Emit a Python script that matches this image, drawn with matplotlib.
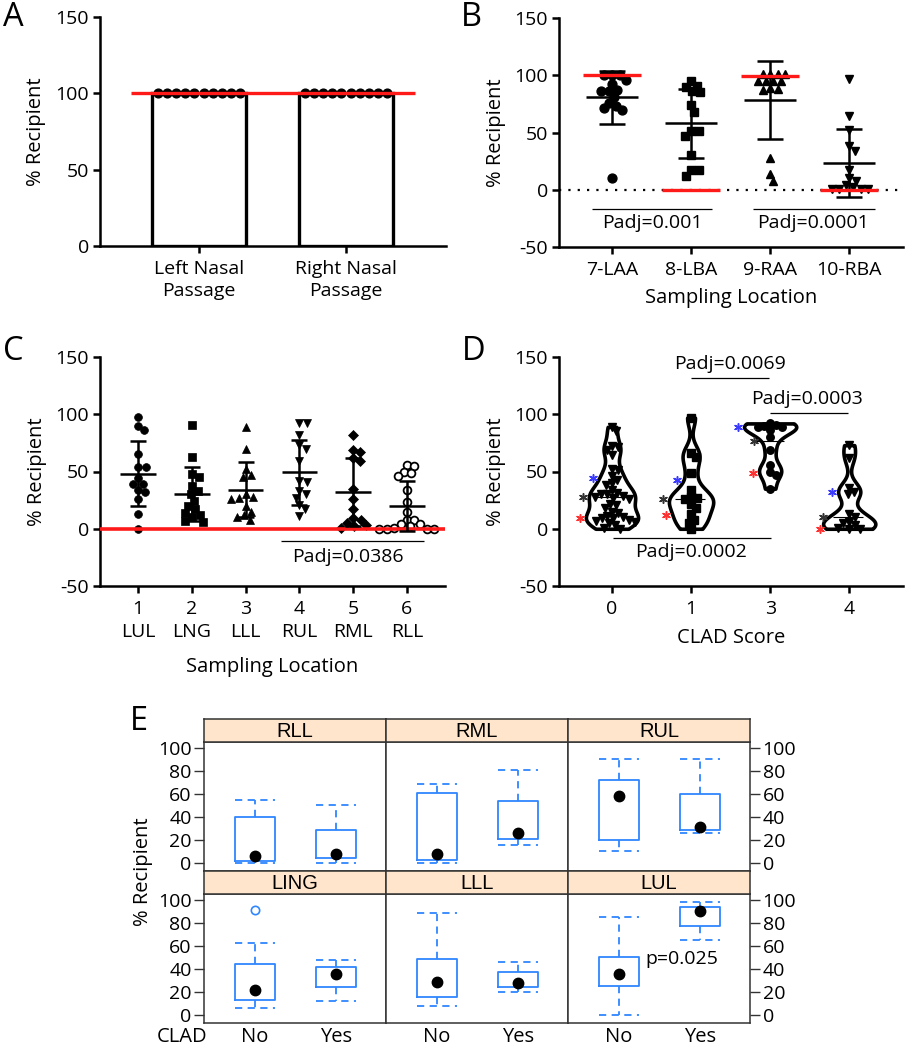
import numpy as np
import matplotlib.pyplot as plt

plt.rcParams['font.family'] = ['Open Sans', 'DejaVu Sans']
plt.rcParams['axes.unicode_minus'] = False

W, H = 907, 1050
TICK = 14
LAB = 14.5

# ---------------- data ----------------
# A
a_labels = ['Left Nasal\nPassage', 'Right Nasal\nPassage']
a_left = [100] * 10
a_right = [100] * 10
a_bar = [100, 100]
a_red = 100

# B
b_labels = ['7-LAA', '8-LBA', '9-RAA', '10-RBA']
b_laa = [100, 100, 100, 96, 92, 87, 86, 86, 81, 76, 73, 71, 70, 10]
b_lba = [95, 91, 90, 86, 85, 74, 68, 51, 51, 47, 30, 17, 17, 12]
b_raa = [101, 101, 101, 101, 95, 95, 95, 95, 89, 88, 87, 28, 14, 8]
b_rba = [97, 64, 52, 38, 34, 17, 10, 8, 4, 2, 1, 1, 0.5, 0.5]
b_red = [100, 0, 99, 0]

# C
c_num = ['1', '2', '3', '4', '5', '6']
c_lobe = ['LUL', 'LNG', 'LLL', 'RUL', 'RML', 'RLL']
c_lul = [98, 90, 86, 65, 54, 54, 44, 39, 39, 34, 32, 26, 13, 0]
c_lng = [91, 63, 48, 45, 37, 33, 30, 24, 20, 17, 14, 12, 10, 7, 6]
c_lll = [89, 70, 52, 47, 45, 30, 28, 27, 26, 20, 15, 12, 10, 8]
c_rul = [92, 92, 82, 73, 70, 59, 42, 41, 33, 30, 27, 21, 17, 11]
c_rml = [82, 69, 67, 62, 59, 35, 26, 17, 9, 8, 5, 3, 2, 1]
c_rll = [56, 55, 50, 49, 46, 34, 23, 15, 8, 8, 4, 4, 2, 1, 0, 0, 0, 0]

# D
d_labels = ['0', '1', '3', '4']
d_clad0 = [89, 85, 72, 71, 69, 64, 52, 51, 46, 43, 40, 38, 34, 31, 30, 30, 29, 28,
           27, 26, 22, 21, 18, 15, 14, 11, 10, 9, 9, 8, 7, 6, 5, 3, 1, 0]
d_clad1 = [97, 66, 63, 49, 34, 28, 27, 26, 22, 18, 13, 8, 5, 0]
d_clad3 = [92, 91, 90, 89, 89, 86, 80, 69, 56, 50, 47, 35]
d_clad4 = [73, 62, 36, 32, 30, 13, 10, 6, 5, 3, 1, 0, 0]
d_star_blue = [44.5, 42.7, 89, 32]
d_star_black = [27.5, 26, 77, 10.5]
d_star_red = [9.4, 12, 48.6, 0]

# E  (box stats: lower whisker, Q1, median, Q3, upper whisker)
e_panels = ['RLL', 'RML', 'RUL', 'LING', 'LLL', 'LUL']
e_groups = ['No', 'Yes']
e_lo = [[0, 0], [0, 16], [10, 26], [6, 12], [8, 20], [0, 65]]
e_q1 = [[2, 4], [3, 21], [20, 29], [13, 24], [16, 24], [25, 77]]
e_med = [[6, 8], [8, 26], [58, 31], [22, 36], [29, 28], [36, 90]]
e_q3 = [[40, 29], [61, 54], [72, 60], [44, 42], [49, 37], [50, 94]]
e_hi = [[55, 50], [69, 81], [90, 90], [63, 48], [89, 46], [85, 98]]
e_out = [[[], []], [[], []], [[], []], [[91], []], [[], []], [[], []]]


# ---------------- helpers ----------------
def box(l, t, r, b):
    return [l / W, 1 - b / H, (r - l) / W, (b - t) / H]


def prism(ax):
    for s in ['top', 'right']:
        ax.spines[s].set_visible(False)
    for s in ['left', 'bottom']:
        ax.spines[s].set_linewidth(1.8)
    ax.tick_params(width=1.8, length=5, labelsize=TICK, pad=3)
    ax.tick_params(axis='x', pad=5)
    ax.yaxis.set_label_coords(-0.155, 0.5)


def swarm(vals, d, xs, ys):
    # simple beeswarm offsets (data units), d = marker diameter in px
    vals = np.asarray(vals, float)
    order = np.argsort(-vals, kind='stable')
    placed = []
    off = np.zeros(len(vals))
    for i in order:
        y = vals[i] * ys
        cands = [0.0]
        for px, py in placed:
            dy = abs(py - y)
            if dy < d:
                dx = np.sqrt(d * d - dy * dy)
                cands += [px + dx, px - dx]
        cands = sorted(cands, key=lambda c: (abs(c), -c))
        for c in cands:
            if all((c - px) ** 2 + (y - py) ** 2 >= d * d - 1e-6 for px, py in placed):
                break
        placed.append((c, y))
        off[i] = c / xs
    return off


def mean_sd(ax, x, vals, half, cap):
    m = np.mean(vals)
    sd = np.std(vals, ddof=1)
    ax.errorbar(x, m, yerr=sd, fmt='none', ecolor='black', elinewidth=1.8,
                capsize=cap, capthick=1.8, zorder=5)
    ax.hlines(m, x - half, x + half, color='black', lw=1.8, zorder=5)


fig = plt.figure(figsize=(W / 100, H / 100), dpi=100)

# ---------------- A ----------------
axA = fig.add_axes(box(100, 17, 446, 246))
xa = np.arange(len(a_labels))
axA.bar(xa, a_bar, width=0.64, color='white', edgecolor='black', linewidth=2.4, zorder=1)
for i, vals in enumerate([a_left, a_right]):
    off = np.linspace(-0.28, 0.28, len(vals))
    axA.plot(i + off, vals, 'o', color='black', ms=6.3, zorder=3, clip_on=False)
axA.hlines(a_red, -0.46, 1.47, color='#ff1a1a', lw=2.4, zorder=4)
axA.set_xlim(-0.673, 1.68)
axA.set_ylim(0, 150)
axA.set_yticks([0, 50, 100, 150])
axA.set_xticks(xa, a_labels, linespacing=1.3)
axA.set_ylabel('% Recipient', fontsize=LAB)
prism(axA)

# ---------------- B ----------------
axB = fig.add_axes(box(559, 18, 903, 247))
b_data = [b_laa, b_lba, b_raa, b_rba]
b_mk = ['o', 's', '^', 'v']
for i, vals in enumerate(b_data):
    off = swarm(vals, 7.6, 79, 1.147)
    axB.plot(i + off, vals, b_mk[i], color='black', ms=6.4 if b_mk[i] != 's' else 6.0,
             ls='none', zorder=3)
    mean_sd(axB, i, vals, 0.33, 9.5)
    axB.hlines(b_red[i], i - 0.37, i + 0.37, color='#ff1a1a', lw=2.4, zorder=6)
axB.axhline(0, color='black', lw=1.6, ls=(0, (1, 3.2)), zorder=0)
axB.hlines(-16.6, -0.25, 1.27, color='black', lw=0.9)
axB.hlines(-16.6, 1.78, 3.32, color='black', lw=0.9)
axB.text(0.51, -29, 'Padj=0.001', ha='center', va='center', fontsize=TICK)
axB.text(2.54, -29, 'Padj=0.0001', ha='center', va='center', fontsize=TICK)
axB.set_xlim(-0.67, 3.68)
axB.set_ylim(-50, 150)
axB.set_yticks([-50, 0, 50, 100, 150])
axB.set_xticks(range(4), b_labels)
axB.set_ylabel('% Recipient', fontsize=LAB)
axB.set_xlabel('Sampling Location', fontsize=LAB)
prism(axB)
axB.xaxis.set_label_coords(0.5, -0.18)

# ---------------- C ----------------
axC = fig.add_axes(box(100, 357, 445, 586))
c_data = [c_lul, c_lng, c_lll, c_rul, c_rml, c_rll]
c_mk = ['o', 's', '^', 'v', 'D', 'o']
for i, vals in enumerate(c_data):
    off = swarm(vals, 7.6, 53.8, 1.1467)
    fc = 'white' if i == 5 else 'black'
    ms = 5.0 if c_mk[i] == 'D' else 5.6
    axC.plot(i + off, vals, c_mk[i], mfc=fc, mec='black', mew=1.3 if i == 5 else 0.5,
             ms=ms, ls='none', zorder=3)
    mean_sd(axC, i, vals, 0.33, 6)
axC.axhline(0, color='#ff1a1a', lw=2.6, zorder=4)
axC.hlines(-11, 2.66, 5.32, color='black', lw=0.9)
axC.text(3.9, -25, 'Padj=0.0386', ha='center', va='center', fontsize=TICK)
axC.set_xlim(-0.71, 5.71)
axC.set_ylim(-50, 150)
axC.set_yticks([-50, 0, 50, 100, 150])
axC.set_xticks(range(6), [n + '\n' + l for n, l in zip(c_num, c_lobe)], linespacing=1.35)
axC.set_ylabel('% Recipient', fontsize=LAB)
axC.set_xlabel('Sampling Location', fontsize=LAB)
prism(axC)
axC.xaxis.set_label_coords(0.5, -0.31)

# ---------------- D ----------------
axD = fig.add_axes(box(559, 357, 903, 586))
d_data = [d_clad0, d_clad1, d_clad3, d_clad4]
d_mk = ['v', 's', 'o', 'v']
parts = axD.violinplot(d_data, positions=range(4), widths=[0.66, 0.56, 0.66, 0.66],
                       showextrema=False, bw_method=0.3)
for b in parts['bodies']:
    b.set_facecolor('white')
    b.set_edgecolor('black')
    b.set_linewidth(2.6)
    b.set_alpha(1)
    b.set_zorder(2)
for i, vals in enumerate(d_data):
    off = swarm(vals, 6.4, 79, 1.14)
    axD.plot(i + off, vals, d_mk[i], color='black', ms=5.4, ls='none', zorder=3)
    axD.hlines(d_star_black[i], i - 0.2, i + 0.18, color='black', lw=0.8, zorder=3)
    v = parts['bodies'][i].get_paths()[0].vertices
    left = v[v[:, 0] < i - 1e-6]
    order = np.argsort(left[:, 1])
    for vals_s, col in [(d_star_blue, '#3b3bff'), (d_star_black, '#333333'),
                        (d_star_red, '#ff3030')]:
        y = vals_s[i]
        xl = np.interp(y, left[order, 1], left[order, 0])
        axD.scatter(xl - 0.08, y, marker=(6, 2, 0), s=30, color=col, lw=1.1, zorder=4)
axD.hlines(131.8, 1.0, 1.99, color='black', lw=0.9)
axD.hlines(101, 2.0, 2.99, color='black', lw=0.9)
axD.hlines(-8, 0.01, 2.01, color='black', lw=0.9)
axD.text(1.49, 144, 'Padj=0.0069', ha='center', va='center', fontsize=TICK)
axD.text(2.47, 113, 'Padj=0.0003', ha='center', va='center', fontsize=TICK)
axD.text(1.0, -20, 'Padj=0.0002', ha='center', va='center', fontsize=TICK)
axD.set_xlim(-0.67, 3.68)
axD.set_ylim(-50, 150)
axD.set_yticks([-50, 0, 50, 100, 150])
axD.set_xticks(range(4), d_labels)
axD.set_ylabel('% Recipient', fontsize=LAB)
axD.set_xlabel('CLAD Score', fontsize=LAB)
prism(axD)
axD.xaxis.set_label_coords(0.5, -0.185)

# ---------------- E ----------------
blue = '#2f86ff'
frame = '#333333'
cols = [204, 386, 568, 750]
rows = [(719, 742, 871), (871, 894, 1023)]
for k, name in enumerate(e_panels):
    r, c = divmod(k, 3)
    st, pt, pb = rows[r]
    l, rr = cols[c], cols[c + 1]
    ax = fig.add_axes(box(l, pt, rr, pb))
    stats = []
    for g in range(2):
        stats.append(dict(whislo=e_lo[k][g], q1=e_q1[k][g], med=e_med[k][g],
                          q3=e_q3[k][g], whishi=e_hi[k][g], fliers=e_out[k][g]))
    ax.bxp(stats, positions=[1, 2], widths=0.5, capwidths=0.5, showfliers=True,
           boxprops=dict(color=blue, lw=1.3),
           whiskerprops=dict(color=blue, lw=1.3, ls=(0, (4, 3))),
           capprops=dict(color=blue, lw=1.3, ls=(0, (4, 3))),
           medianprops=dict(visible=False),
           flierprops=dict(marker='o', mfc='none', mec=blue, ms=6, mew=1.2))
    ax.plot([1, 2], e_med[k], 'o', color='black', ms=7.5, zorder=5)
    ax.set_xlim(0.37, 2.62)
    ax.set_ylim(-7, 105.2)
    ax.set_yticks(range(0, 101, 20))
    for s in ax.spines.values():
        s.set_color(frame)
        s.set_linewidth(1.1)
    ax.tick_params(axis='y', length=7, width=1.0, color=frame, labelsize=TICK, pad=2)
    if c == 0:
        ax.yaxis.tick_left()
    elif c == 2:
        ax.yaxis.tick_right()
    else:
        ax.tick_params(axis='y', left=False, labelleft=False)
    if r == 1:
        ax.set_xticks([1, 2], e_groups)
        ax.tick_params(axis='x', length=0, labelsize=14.5, pad=3)
    else:
        ax.set_xticks([])
    if name == 'LUL':
        ax.text(1.33, 49, 'p=0.025', ha='left', va='center', fontsize=TICK)
    sa = fig.add_axes(box(l, st, rr, pt))
    sa.set_facecolor('#ffe5cc')
    sa.set_xticks([])
    sa.set_yticks([])
    for s in sa.spines.values():
        s.set_color(frame)
        s.set_linewidth(1.1)
    sa.text(0.5, 0.45, name, ha='center', va='center', fontsize=14.5,
            family=['Liberation Sans', 'DejaVu Sans'], transform=sa.transAxes)

fig.text(143 / W, 1 - 872 / H, '% Recipient', rotation=90, ha='center', va='center',
         fontsize=LAB)
fig.text(207 / W, 1 - 1037 / H, 'CLAD', ha='right', va='center', fontsize=14.5)

# panel letters
for lab, x, y in [('A', 3, 18), ('B', 461, 18), ('C', 3, 352), ('D', 462, 352), ('E', 130, 722)]:
    fig.text(x / W, 1 - y / H, lab, ha='left', va='center', fontsize=23.5)

fig.savefig('out.png', dpi=100)
